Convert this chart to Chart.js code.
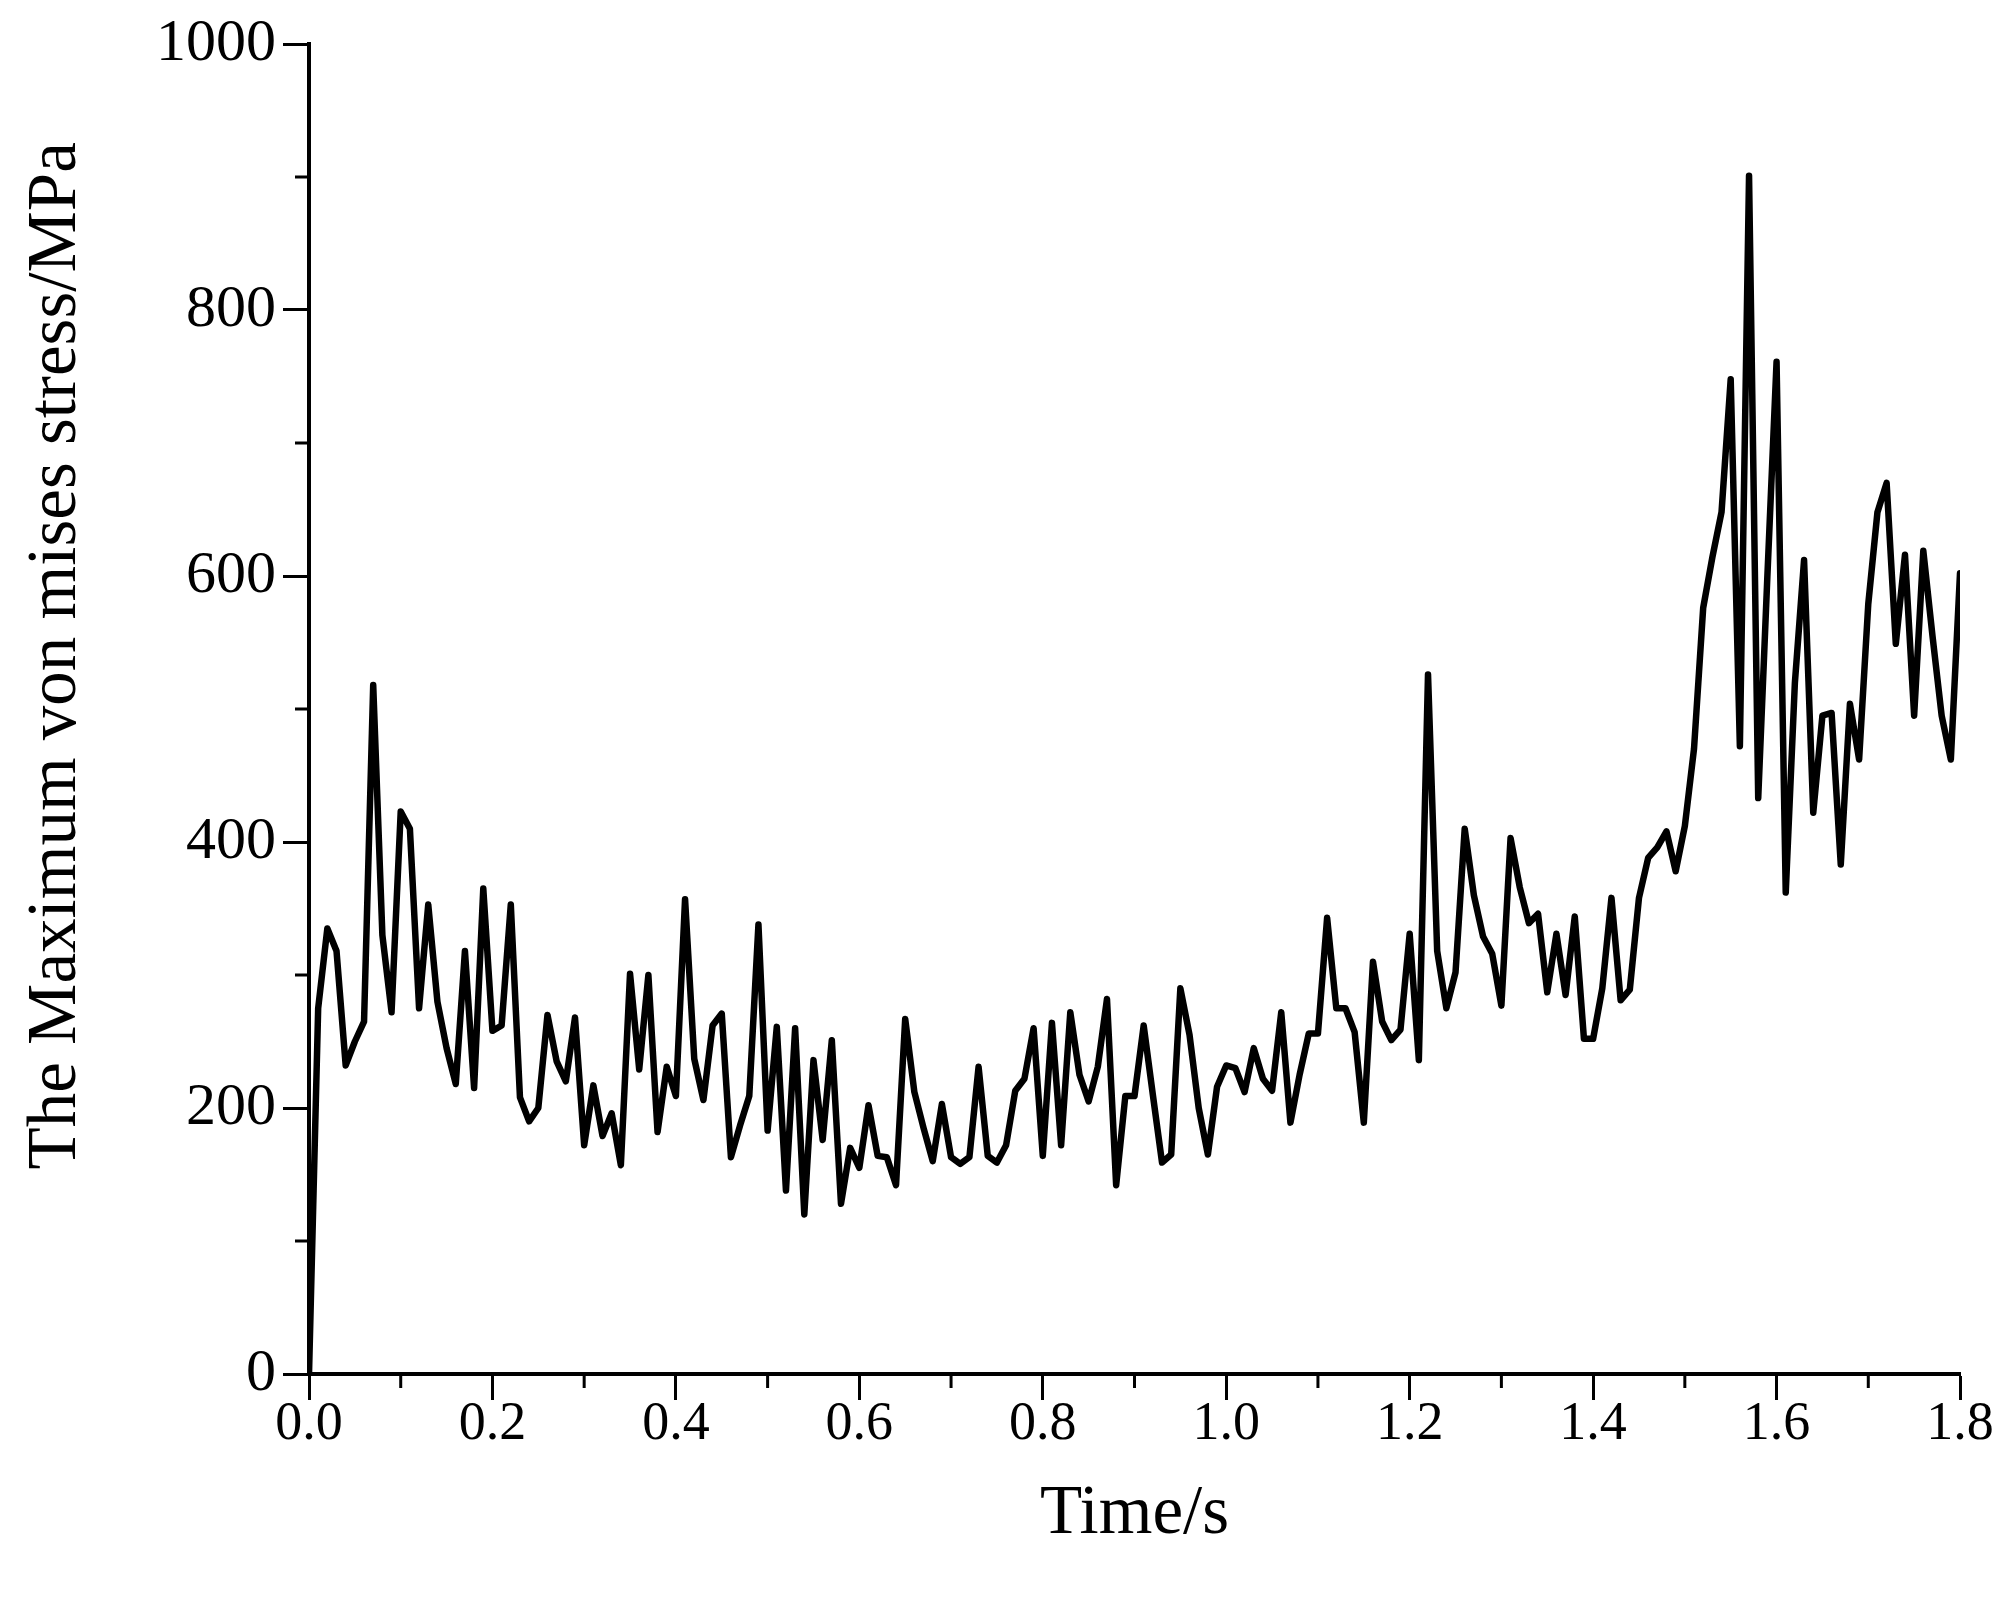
<!DOCTYPE html>
<html>
<head>
<meta charset="utf-8">
<script src="https://cdn.jsdelivr.net/npm/chart.js"></script>
<style>
    html, body {
        margin: 0;
        padding: 0;
        background-color: #fff;
    }
    #wrap {
        width: 2013px;
        height: 1599px;
    }
</style>
</head>
<body>
<div id="wrap"><canvas id="stressChart" width="2013" height="1599"></canvas></div>

<script>
    // Time axis (s), one sample every 0.01 s
    const times = [
        0.00, 0.01, 0.02, 0.03, 0.04, 0.05, 0.06, 0.07, 0.08, 0.09,
        0.10, 0.11, 0.12, 0.13, 0.14, 0.15, 0.16, 0.17, 0.18, 0.19,
        0.20, 0.21, 0.22, 0.23, 0.24, 0.25, 0.26, 0.27, 0.28, 0.29,
        0.30, 0.31, 0.32, 0.33, 0.34, 0.35, 0.36, 0.37, 0.38, 0.39,
        0.40, 0.41, 0.42, 0.43, 0.44, 0.45, 0.46, 0.47, 0.48, 0.49,
        0.50, 0.51, 0.52, 0.53, 0.54, 0.55, 0.56, 0.57, 0.58, 0.59,
        0.60, 0.61, 0.62, 0.63, 0.64, 0.65, 0.66, 0.67, 0.68, 0.69,
        0.70, 0.71, 0.72, 0.73, 0.74, 0.75, 0.76, 0.77, 0.78, 0.79,
        0.80, 0.81, 0.82, 0.83, 0.84, 0.85, 0.86, 0.87, 0.88, 0.89,
        0.90, 0.91, 0.92, 0.93, 0.94, 0.95, 0.96, 0.97, 0.98, 0.99,
        1.00, 1.01, 1.02, 1.03, 1.04, 1.05, 1.06, 1.07, 1.08, 1.09,
        1.10, 1.11, 1.12, 1.13, 1.14, 1.15, 1.16, 1.17, 1.18, 1.19,
        1.20, 1.21, 1.22, 1.23, 1.24, 1.25, 1.26, 1.27, 1.28, 1.29,
        1.30, 1.31, 1.32, 1.33, 1.34, 1.35, 1.36, 1.37, 1.38, 1.39,
        1.40, 1.41, 1.42, 1.43, 1.44, 1.45, 1.46, 1.47, 1.48, 1.49,
        1.50, 1.51, 1.52, 1.53, 1.54, 1.55, 1.56, 1.57, 1.58, 1.59,
        1.60, 1.61, 1.62, 1.63, 1.64, 1.65, 1.66, 1.67, 1.68, 1.69,
        1.70, 1.71, 1.72, 1.73, 1.74, 1.75, 1.76, 1.77, 1.78, 1.79,
        1.80
    ];

    // Maximum von Mises stress (MPa)
    const stress = [
        0, 275, 335, 318, 232, 250, 265, 518, 330, 272,
        423, 410, 275, 353, 280, 245, 218, 318, 215, 365,
        258, 262, 353, 208, 190, 200, 270, 235, 220, 268,
        172, 217, 179, 196, 157, 301, 229, 300, 182, 231,
        209, 357, 237, 206, 262, 271, 163, 187, 209, 338,
        183, 261, 138, 260, 120, 236, 176, 251, 128, 170,
        155, 202, 164, 163, 142, 267, 212, 185, 160, 203,
        163, 158, 163, 231, 164, 159, 172, 213, 222, 260,
        164, 264, 172, 272, 225, 205, 231, 282, 142, 209,
        209, 262, 210, 159, 165, 290, 255, 200, 165, 216,
        232, 230, 212, 245, 222, 213, 272, 189, 225, 256,
        256, 343, 275, 275, 257, 189, 310, 265, 251, 259,
        331, 236, 526, 318, 275, 302, 410, 360, 329, 316,
        277, 403, 366, 339, 346, 287, 331, 285, 344, 252,
        252, 290, 358, 281, 289, 358, 388, 396, 408, 378,
        412, 470, 576, 614, 648, 748, 472, 901, 433, 600,
        761, 362, 520, 612, 422, 495, 497, 383, 504, 462,
        579, 648, 670, 549, 616, 495, 619, 555, 495, 462,
        602
    ];

    // Tick positions
    const xMajor = [0, 0.2, 0.4, 0.6, 0.8, 1.0, 1.2, 1.4, 1.6, 1.8];
    const xMinor = [0.1, 0.3, 0.5, 0.7, 0.9, 1.1, 1.3, 1.5, 1.7];
    const yMajor = [0, 200, 400, 600, 800, 1000];
    const yMinor = [100, 300, 500, 700, 900];

    const yTitle = 'The Maximum von mises stress/MPa';
    const serif = 'Liberation Serif';

    // Chart.js has no minor ticks, so draw the short ones here.
    // The y title sits a bit above the middle of the axis in the original,
    // so it is drawn here too.
    const extras = {
        id: 'extras',
        afterDraw(chart) {
            const { ctx } = chart;
            const x = chart.scales.x;
            const y = chart.scales.y;
            ctx.save();
            ctx.strokeStyle = '#000';
            ctx.lineWidth = 3;
            ctx.beginPath();
            xMinor.forEach(v => {
                const px = x.getPixelForValue(v);
                ctx.moveTo(px, x.top);
                ctx.lineTo(px, x.top + 14);
            });
            yMinor.forEach(v => {
                const py = y.getPixelForValue(v);
                ctx.moveTo(y.right, py);
                ctx.lineTo(y.right - 14, py);
            });
            ctx.stroke();

            ctx.translate(57, y.getPixelForValue(540));
            ctx.rotate(-Math.PI / 2);
            ctx.fillStyle = '#000';
            ctx.font = '69px "' + serif + '"';
            ctx.textAlign = 'center';
            ctx.textBaseline = 'middle';
            ctx.fillText(yTitle, 0, 0);
            ctx.restore();
        }
    };

    const ctx = document.getElementById('stressChart').getContext('2d');
    new Chart(ctx, {
        type: 'line',
        data: {
            labels: times,
            datasets: [{
                data: stress,
                borderColor: '#000',
                borderWidth: 6.5,
                pointRadius: 0,
                tension: 0,
                fill: false,
                borderJoinStyle: 'round',
                borderCapStyle: 'round'
            }]
        },
        options: {
            responsive: false,
            animation: false,
            devicePixelRatio: 1,
            layout: {
                padding: { top: 44, right: 53, left: 0, bottom: 0 }
            },
            plugins: {
                legend: { display: false },
                tooltip: { enabled: false }
            },
            scales: {
                x: {
                    type: 'linear',
                    min: 0,
                    max: 1.8,
                    afterBuildTicks: s => { s.ticks = xMajor.map(v => ({ value: v })); },
                    afterFit: s => { s.height = 225; },
                    grid: {
                        drawOnChartArea: false,
                        drawTicks: true,
                        tickLength: 26,
                        tickWidth: 3,
                        tickColor: '#000'
                    },
                    border: { display: true, color: '#000', width: 4 },
                    ticks: {
                        color: '#000',
                        padding: -2,
                        maxRotation: 0,
                        font: { family: serif, size: 54, lineHeight: 1 },
                        callback: v => Number(v).toFixed(1)
                    },
                    title: {
                        display: true,
                        text: 'Time/s',
                        color: '#000',
                        padding: { top: 0, bottom: 50 },
                        font: { family: serif, size: 69, lineHeight: 1 }
                    }
                },
                y: {
                    min: 0,
                    max: 1000,
                    afterBuildTicks: s => { s.ticks = yMajor.map(v => ({ value: v })); },
                    afterFit: s => { s.width = 309; },
                    grid: {
                        drawOnChartArea: false,
                        drawTicks: true,
                        tickLength: 26,
                        tickWidth: 3,
                        tickColor: '#000'
                    },
                    border: { display: true, color: '#000', width: 4 },
                    ticks: {
                        color: '#000',
                        padding: 7,
                        font: { family: serif, size: 60, lineHeight: 1 },
                        callback: v => String(v)
                    },
                    title: { display: false }
                }
            }
        },
        plugins: [extras]
    });
</script>
</body>
</html>
